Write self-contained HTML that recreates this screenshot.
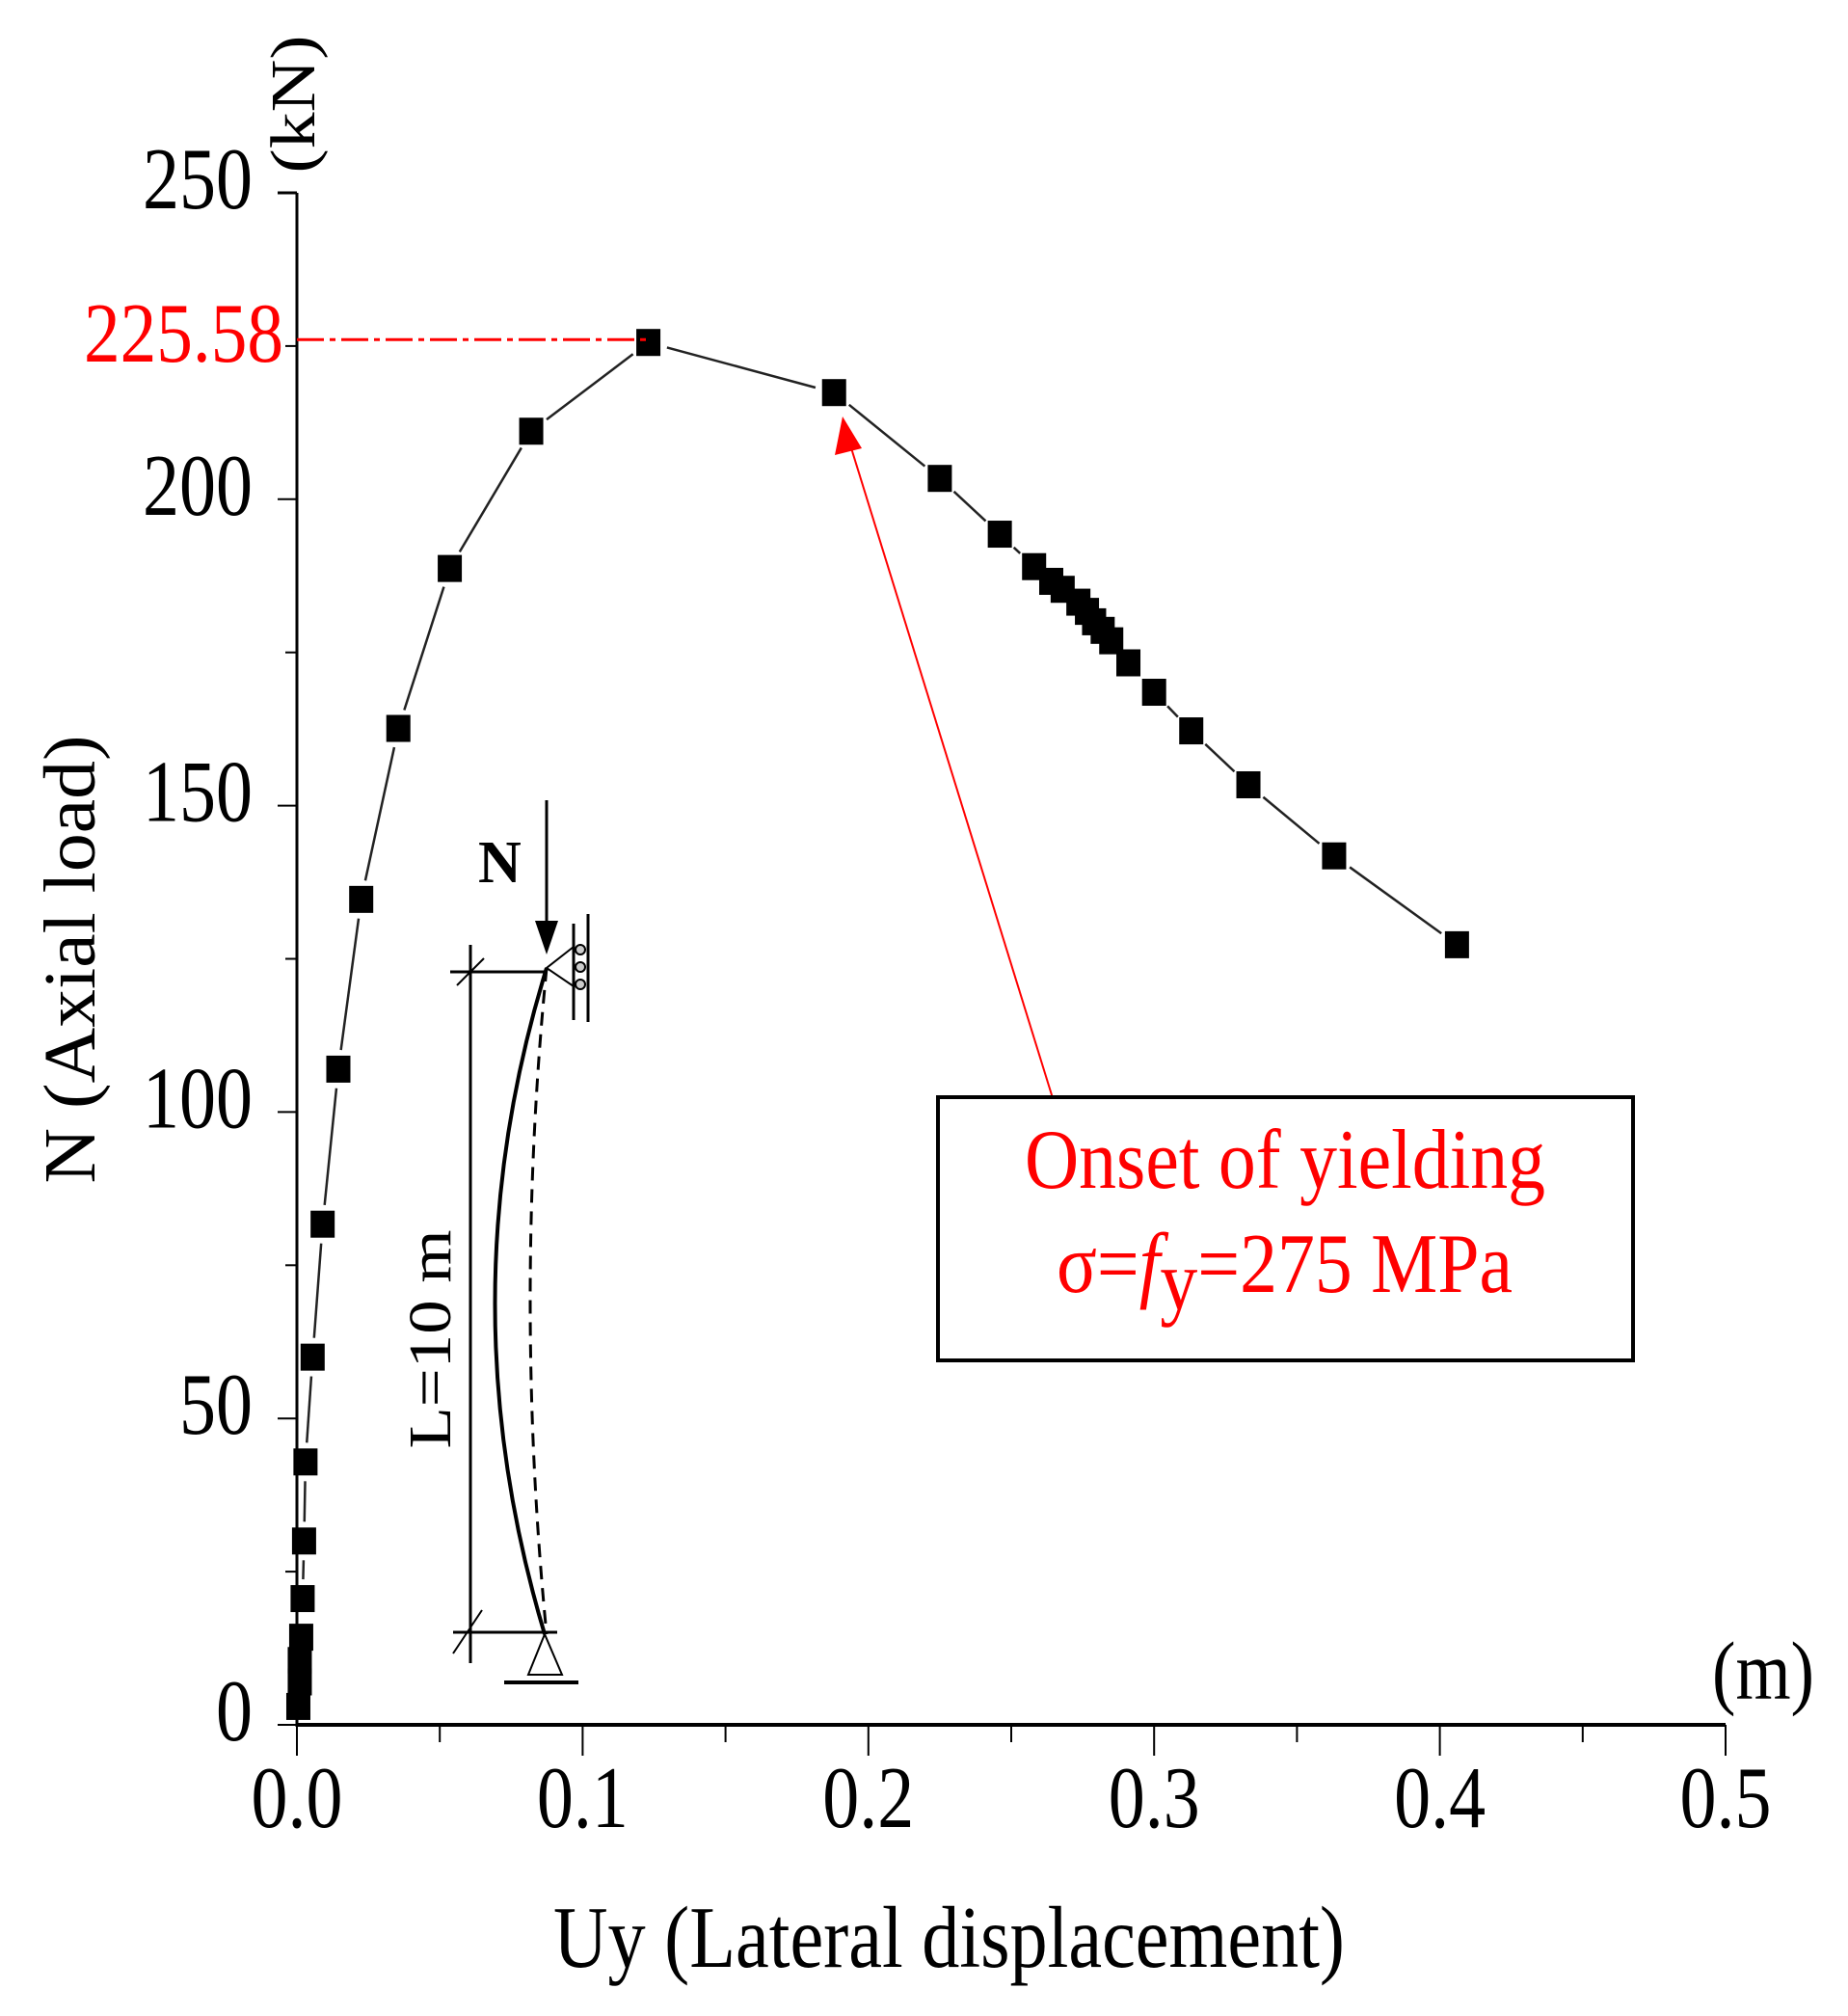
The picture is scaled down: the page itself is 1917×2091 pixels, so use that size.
<!DOCTYPE html>
<html><head><meta charset="utf-8"><style>
html,body{margin:0;padding:0;background:#fff;}
svg{display:block;}
text{font-family:"Liberation Serif",serif;}
</style></head><body>
<svg id="chart" width="1917" height="2091" viewBox="0 0 1917 2091" xmlns="http://www.w3.org/2000/svg">
<g id="axes"></g>
<g id="series"></g>
<g>
  <line id="peakline" stroke="#f00" stroke-width="3" stroke-dasharray="28,6,6,6"/>
  <g id="peaklabel"></g>
</g>
<g stroke="#000" fill="none">
  <line x1="488" y1="980" x2="488" y2="1725" stroke-width="3"/>
  <line x1="467" y1="1008" x2="567" y2="1008" stroke-width="3"/>
  <line x1="470" y1="1693" x2="578" y2="1693" stroke-width="3"/>
  <line x1="474" y1="1022" x2="502" y2="994" stroke-width="2"/>
  <line x1="470" y1="1715" x2="500" y2="1670" stroke-width="2"/>
  <path d="M567,1004 Q461,1348 565,1695" stroke-width="4"/>
  <path d="M567,1004 Q533,1348 567,1695" stroke-width="3" stroke-dasharray="14,9"/>
  <line x1="567" y1="830" x2="567" y2="965" stroke-width="3"/>
  <polygon points="555,955 579,955 567,990" fill="#000" stroke="none"/>
  <polyline points="595,982 567,1004 595,1023" stroke-width="2"/>
  <line x1="595" y1="958" x2="595" y2="1058" stroke-width="3"/>
  <line x1="610" y1="948" x2="610" y2="1060" stroke-width="3"/>
  <circle cx="602" cy="985" r="5" stroke-width="2" fill="#ccc"/>
  <circle cx="602" cy="1003" r="5" stroke-width="2" fill="#ccc"/>
  <circle cx="602" cy="1021" r="5" stroke-width="2" fill="#ccc"/>
  <polygon points="565,1695 548,1737 583,1737" stroke-width="2"/>
  <line x1="523" y1="1745" x2="600" y2="1745" stroke-width="4"/>
  <text x="496" y="915" font-size="62" font-weight="bold" fill="#000" stroke="none">N</text>
  <text font-size="62" fill="#000" stroke="none" text-anchor="middle" transform="translate(467,1389) rotate(-90)" textLength="227" lengthAdjust="spacingAndGlyphs">L=10 m</text>
</g>
<g>
  <line x1="1092" y1="1139" x2="880" y2="455" stroke="#f00" stroke-width="2"/>
  <polygon points="874,432 866,472 894,465" fill="#f00"/>
  <rect x="973" y="1138" width="721" height="273" fill="none" stroke="#000" stroke-width="4"/>
  <g transform="translate(1063,1232) scale(1,1.3)"><text x="0" y="0" font-size="68" fill="#f00" textLength="540" lengthAdjust="spacingAndGlyphs">Onset of yielding</text></g>
  <g transform="translate(1096,1340) scale(1,1.3)"><text x="0" y="0" font-size="68" fill="#f00" textLength="473" lengthAdjust="spacingAndGlyphs">σ=<tspan font-style="italic">f</tspan><tspan dy="14">y</tspan><tspan dy="-14">=275 MPa</tspan></text></g>
</g>
</svg>
<script>
const xTicks = [0, 0.1, 0.2, 0.3, 0.4, 0.5];
const xTickLabels = ["0.0", "0.1", "0.2", "0.3", "0.4", "0.5"];
const yTicks = [0, 50, 100, 150, 200, 250];
const yTickLabels = ["0", "50", "100", "150", "200", "250"];
const dispValues = [0.0005,0.001,0.001,0.0015,0.002,0.0025,0.003,0.0055,0.009,0.0145,0.0225,0.0355,0.0535,0.082,0.123,0.188,0.225,0.246,0.258,0.264,0.268,0.2735,0.2765,0.279,0.282,0.285,0.291,0.300,0.313,0.333,0.363,0.406];
const loadValues = [3,7,10.5,14.3,20.6,30,42.9,60,81.7,107,134.7,162.6,188.7,211.1,225.58,217.4,203.4,194.3,189,186.6,185.3,183.2,181.7,180,178.6,176.9,173.3,168.5,162.2,153.4,141.8,127.3];
const peakValue = 225.58;

const NS = "http://www.w3.org/2000/svg";
const X0 = 308, X1 = 1790, Y0 = 1789, Y1 = 200;
const sx = v => X0 + (X1 - X0) * v / 0.5;
const sy = v => Y0 - (Y0 - Y1) * v / 250;
function mk(tag, attrs, parent) {
  const e = document.createElementNS(NS, tag);
  for (const k in attrs) e.setAttribute(k, attrs[k]);
  parent.appendChild(e);
  return e;
}
const axes = document.getElementById('axes');
let el = mk('line', {x1: X0, y1: Y0, x2: X1, y2: Y0, stroke: '#000', 'stroke-width': 4}, axes);


el = mk('line', {x1: X0, y1: Y0 + 2, x2: X0, y2: Y1, stroke: '#000', 'stroke-width': 3}, axes);


mk('line', {x1: X0 - 20, y1: Y1, x2: X0, y2: Y1, stroke: '#000', 'stroke-width': 3}, axes);

for (let i = 0; i < xTicks.length; i++) {
  const x = sx(xTicks[i]);
  el = mk('line', {x1: x, y1: Y0, x2: x, y2: Y0 + 32, stroke: '#000', 'stroke-width': 2}, axes);
  
  
  if (i < xTicks.length - 1) {
    mk('line', {x1: sx(xTicks[i] + 0.05), y1: Y0, x2: sx(xTicks[i] + 0.05), y2: Y0 + 18, stroke: '#000', 'stroke-width': 2}, axes);
  }
  const g = mk('g', {transform: `translate(${x},1895) scale(1,1.2)`}, axes);
  el = mk('text', {x: 0, y: 0, 'font-size': 76, 'text-anchor': 'middle', fill: '#000'}, g);
  
  
  el.textContent = xTickLabels[i];
}
for (let i = 0; i < yTicks.length; i++) {
  const y = sy(yTicks[i]);
  el = mk('line', {x1: X0 - 20, y1: y, x2: X0, y2: y, stroke: '#000', 'stroke-width': 2}, axes);
  
  
  if (i < yTicks.length - 1) {
    const ym = sy(yTicks[i] + 25);
    mk('line', {x1: X0 - 12, y1: ym, x2: X0, y2: ym, stroke: '#000', 'stroke-width': 2}, axes);
  }
  const g = mk('g', {transform: `translate(262,${y + 16}) scale(1,1.2)`}, axes);
  el = mk('text', {x: 0, y: 0, 'font-size': 76, 'text-anchor': 'end', fill: '#000'}, g);
  
  
  el.textContent = yTickLabels[i];
}
let g = mk('g', {transform: 'translate(574,2040) scale(1,1.3)'}, axes);
el = mk('text', {x: 0, y: 0, 'font-size': 70, fill: '#000', textLength: 821, lengthAdjust: 'spacingAndGlyphs'}, g);


el.textContent = 'Uy (Lateral displacement)';
el = mk('text', {x: 0, y: 0, 'font-size': 76, fill: '#000', 'text-anchor': 'middle', transform: 'translate(98,995) rotate(-90)', textLength: 465, lengthAdjust: 'spacingAndGlyphs'}, axes);


el.textContent = 'N (Axial load)';
el = mk('text', {x: 0, y: 0, 'font-size': 66, fill: '#000', 'text-anchor': 'middle', transform: 'translate(326,108) rotate(-90)', textLength: 143, lengthAdjust: 'spacingAndGlyphs'}, axes);


el.textContent = '(kN)';
g = mk('g', {transform: 'translate(1776,1762) scale(1,1.3)'}, axes);
el = mk('text', {x: 0, y: 0, 'font-size': 66, fill: '#000', textLength: 106, lengthAdjust: 'spacingAndGlyphs'}, g);


el.textContent = '(m)';

const series = document.getElementById('series');
for (let i = 0; i < dispValues.length - 1; i++) {
  const xa = sx(dispValues[i]), ya = sy(loadValues[i]);
  const xb = sx(dispValues[i + 1]), yb = sy(loadValues[i + 1]);
  const d = Math.hypot(xb - xa, yb - ya);
  const gap = 20;
  if (d > 2 * gap + 2) {
    const ux = (xb - xa) / d, uy = (yb - ya) / d;
    el = mk('line', {x1: xa + ux * gap, y1: ya + uy * gap, x2: xb - ux * gap, y2: yb - uy * gap, stroke: '#222', 'stroke-width': 2.5}, series);
    
    
  }
}
for (let i = 0; i < dispValues.length; i++) {
  el = mk('rect', {x: sx(dispValues[i]) - 12.5, y: sy(loadValues[i]) - 14, width: 25, height: 28, fill: '#000'}, series);
  
  
}
const pl = document.getElementById('peakline');
pl.setAttribute('x1', X0);
pl.setAttribute('y1', sy(peakValue) - 3);
pl.setAttribute('x2', sx(0.123));
pl.setAttribute('y2', sy(peakValue) - 3);
const plg = document.getElementById('peaklabel');
g = mk('g', {transform: `translate(294,${sy(peakValue) + 20}) scale(1,1.3)`}, plg);
el = mk('text', {x: 0, y: 0, 'font-size': 68, fill: '#f00', 'text-anchor': 'end', textLength: 207, lengthAdjust: 'spacingAndGlyphs'}, g);


el.textContent = '225.58';
</script>
</body></html>
